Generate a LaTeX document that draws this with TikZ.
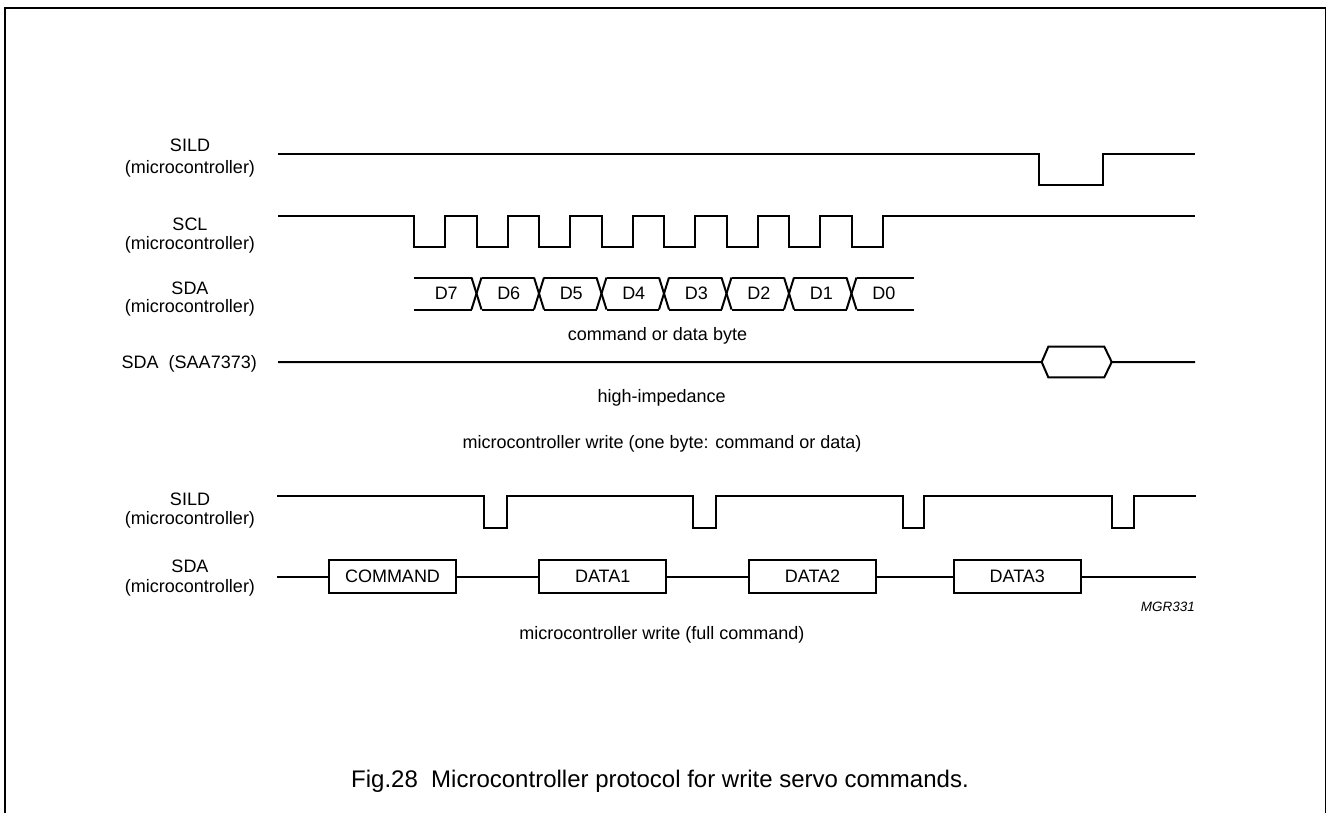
\documentclass[tikz,border=0pt]{standalone}
\usepackage{fontspec}
\setmainfont{Liberation Sans}
\begin{document}
\begin{tikzpicture}[x=1pt,y=-1pt,
  sig/.style={line width=2pt, line join=miter},
  frame/.style={line width=1.6pt},
  lab/.style={font=\fontsize{18}{20}\selectfont, inner sep=0pt},
  bytebox/.style={draw, line width=2pt, minimum width=127pt, minimum height=33pt, inner sep=0pt, font=\fontsize{18}{20}\selectfont},
  tag/.style={font=\fontsize{13.5}{15}\selectfont\itshape, inner sep=0pt},
  captext/.style={font=\fontsize{24}{28}\selectfont, inner sep=0pt}]
\useasboundingbox (0,0) rectangle (1327,812);
% frame
\draw[frame] (5,815) -- (5,8) -- (1325.5,8) -- (1325.5,815);

% ---- labels left
\node[lab] (l1a) at (190,145.7) {SILD};
\node[lab] (l1b) at (190,169) {(microcontroller)};
\node[lab] (l2a) at (190,224.3) {SCL};
\node[lab] (l2b) at (190,245) {(microcontroller)};
\node[lab] (l3a) at (190,288.3) {SDA};
\node[lab] (l3b) at (190,308.3) {(microcontroller)};
\node[lab, anchor=east] (l4) at (257,364) {SDA\ \ (SAA7373)};
\node[lab] (l5a) at (190,499.3) {SILD};
\node[lab] (l5b) at (190,520) {(microcontroller)};
\node[lab] (l6a) at (190,566) {SDA};
\node[lab] (l6b) at (190,588.3) {(microcontroller)};

% ---- SILD (top)
\draw[sig] (278,153.5) -- (1039.3,153.5) -- (1039.3,185) -- (1102.7,185) -- (1102.7,153.5) -- (1195,153.5);

% ---- SCL
\draw[sig] (278,215.7)
  \foreach \i in {0,...,7} {
    -- ({414+62.5*\i},215.7) -- ({414+62.5*\i},246.7)
    -- ({445.25+62.5*\i},246.7) -- ({445.25+62.5*\i},215.7)
  } -- (1195,215.7);

% ---- SDA (microcontroller) data byte
\foreach \i in {1,...,7} {
  \draw[sig] ({414+62.5*\i-5},277.5) -- ({414+62.5*\i+5},309.5);
  \draw[sig] ({414+62.5*\i-5},309.5) -- ({414+62.5*\i+5},277.5);
}
\foreach \i in {0,...,7} {
  \pgfmathsetmacro{\xa}{ifthenelse(\i==0,414,414+62.5*\i+5)}
  \pgfmathsetmacro{\xb}{ifthenelse(\i==7,913.5,414+62.5*(\i+1)-5)}
  \draw[sig] (\xa,277.5) -- (\xb,277.5);
  \draw[sig] (\xa,309.5) -- (\xb,309.5);
}
\foreach \n [count=\k from 0] in {D7,D6,D5,D4,D3,D2,D1,D0}
  \node[lab] (bit\k) at ({446.25+62.5*\k},293.5) {\n};
\node[lab] (cmdbyte) at (657.5,336) {command or data byte};

% ---- SDA (SAA7373)
\draw[sig] (278,362) -- (1041.7,362) -- (1048.3,346.7) -- (1104.3,346.7) -- (1111.7,362) -- (1195,362);
\draw[sig] (1041.7,362) -- (1048.3,377.3) -- (1104.3,377.3) -- (1111.7,362);
\node[lab] (hiz) at (661.7,398) {high-impedance};

\node[lab] (title1) at (662,444) {microcontroller write (one byte: command or data)};

% ---- SILD (bottom)
\draw[sig] (277,495.7)
  -- (484,495.7) -- (484,527.7) -- (506.7,527.7) -- (506.7,495.7)
  -- (693.3,495.7) -- (693.3,527.7) -- (716,527.7) -- (716,495.7)
  -- (902.7,495.7) -- (902.7,527.7) -- (923.7,527.7) -- (923.7,495.7)
  -- (1111.7,495.7) -- (1111.7,527.7) -- (1134,527.7) -- (1134,495.7)
  -- (1196,495.7);

% ---- SDA (bottom) frames
\coordinate (sstart) at (277,576.5);
\coordinate (send) at (1196,576.5);
\node[bytebox] (cmd) at (392.5,576.5) {COMMAND};
\node[bytebox] (dat1) at (602.7,576.5) {DATA1};
\node[bytebox] (dat2) at (812.5,576.5) {DATA2};
\node[bytebox] (dat3) at (1017.3,576.5) {DATA3};
\draw[sig] (sstart) -- (cmd.west);
\draw[sig] (cmd.east) -- (dat1.west);
\draw[sig] (dat1.east) -- (dat2.west);
\draw[sig] (dat2.east) -- (dat3.west);
\draw[sig] (dat3.east) -- (send);

\node[tag, anchor=east] (mgr) at (1195,606.7) {MGR331};
\node[lab] (title2) at (662,635) {microcontroller write (full command)};

\node[captext, anchor=base] (caption) at (660,787) {Fig.28\ \ Microcontroller protocol for write servo commands.};
\end{tikzpicture}
\end{document}
